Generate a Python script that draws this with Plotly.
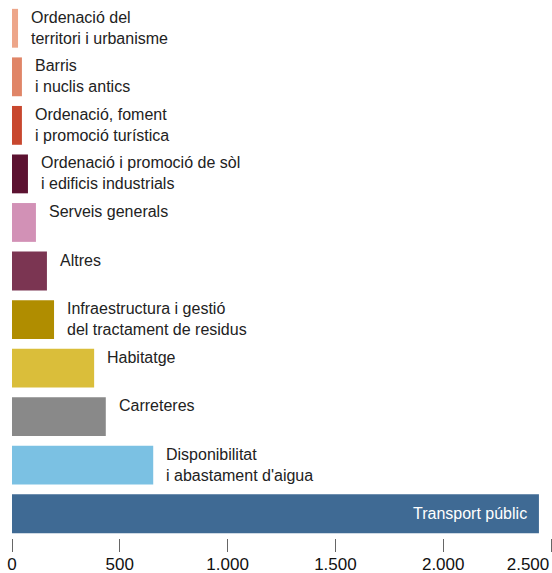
import plotly.graph_objects as go

categories = [
    "Ordenació del territori i urbanisme",
    "Barris i nuclis antics",
    "Ordenació, foment i promoció turística",
    "Ordenació i promoció de sòl i edificis industrials",
    "Serveis generals",
    "Altres",
    "Infraestructura i gestió del tractament de residus",
    "Habitatge",
    "Carreteres",
    "Disponibilitat i abastament d'aigua",
    "Transport públic",
]
labels = [
    "Ordenació del<br>territori i urbanisme",
    "Barris<br>i nuclis antics",
    "Ordenació, foment<br>i promoció turística",
    "Ordenació i promoció de sòl<br>i edificis industrials",
    "Serveis generals",
    "Altres",
    "Infraestructura i gestió<br>del tractament de residus",
    "Habitatge",
    "Carreteres",
    "Disponibilitat<br>i abastament d'aigua",
    "Transport públic",
]
values = [28, 46, 46, 74, 111, 162, 195, 381, 435, 655, 2444]
colors = [
    "#EDA68A", "#E08567", "#C8472E", "#5C1231", "#D291B6", "#7B3552",
    "#B08D00", "#DABE3A", "#898989", "#7BC1E3", "#3F6A94",
]
tick_vals = [0, 500, 1000, 1500, 2000, 2500]
tick_labels = ["0", "500", "1.000", "1.500", "2.000", "2.500"]

FONT = "Helvetica, Arial, 'Liberation Sans', sans-serif"

fig = go.Figure(
    go.Bar(
        x=values,
        y=categories,
        orientation="h",
        marker=dict(color=colors, line=dict(width=0)),
        hoverinfo="x+y",
    )
)
# helper trace so the overlay axis (right-most tick label) is drawn
fig.add_trace(go.Scatter(
    x=[tick_vals[-1]], y=[categories[0]], xaxis="x2", yaxis="y",
    mode="markers", marker=dict(opacity=0, size=1), hoverinfo="skip",
    showlegend=False,
))

annotations = []
vmax = max(values)
for i, (lab, v) in enumerate(zip(labels, values)):
    if v > 0.5 * vmax:
        annotations.append(dict(
            x=v, y=i, xref="x", yref="y", text=lab, showarrow=False,
            xanchor="right", yanchor="middle", align="right", xshift=-10,
            font=dict(family=FONT, size=16, color="#ffffff"),
        ))
    else:
        annotations.append(dict(
            x=v, y=i - 0.4, xref="x", yref="y", text=lab, showarrow=False,
            xanchor="left", yanchor="top", align="left", xshift=11, yshift=2,
            font=dict(family=FONT, size=16, color="#222222"),
        ))

tickfont = dict(family=FONT, size=17, color="#111111")

fig.update_layout(
    width=552,
    height=573,
    margin=dict(l=12, r=1, t=4, b=35),
    paper_bgcolor="white",
    plot_bgcolor="white",
    showlegend=False,
    bargap=0.2,
    font=dict(family=FONT, size=16, color="#111111"),
    xaxis=dict(
        range=[0, 2500],
        tickvals=tick_vals,
        ticktext=tick_labels[:-1] + [""],
        ticks="outside",
        ticklen=13,
        tickwidth=1,
        tickcolor="#666666",
        ticklabelstandoff=-2,
        automargin=False,
        showgrid=False,
        zeroline=False,
        showline=False,
        tickfont=tickfont,
        fixedrange=True,
    ),
    xaxis2=dict(
        range=[0, 2500],
        overlaying="x",
        side="bottom",
        anchor="y",
        tickvals=[tick_vals[-1]],
        ticktext=[tick_labels[-1]],
        ticks="outside",
        ticklen=13,
        tickcolor="rgba(0,0,0,0)",
        ticklabelshift=-23,
        ticklabelstandoff=-2,
        automargin=False,
        showgrid=False,
        zeroline=False,
        showline=False,
        tickfont=tickfont,
        fixedrange=True,
    ),
    yaxis=dict(
        type="category",
        range=[10.5, -0.5],
        autorange=False,
        automargin=False,
        showticklabels=False,
        showgrid=False,
        zeroline=False,
        showline=False,
        ticks="",
        fixedrange=True,
    ),
    annotations=annotations,
)

fig.write_html(
    "out.html",
    config={"displayModeBar": False},
    post_script="document.body.style.margin='0';",
)
